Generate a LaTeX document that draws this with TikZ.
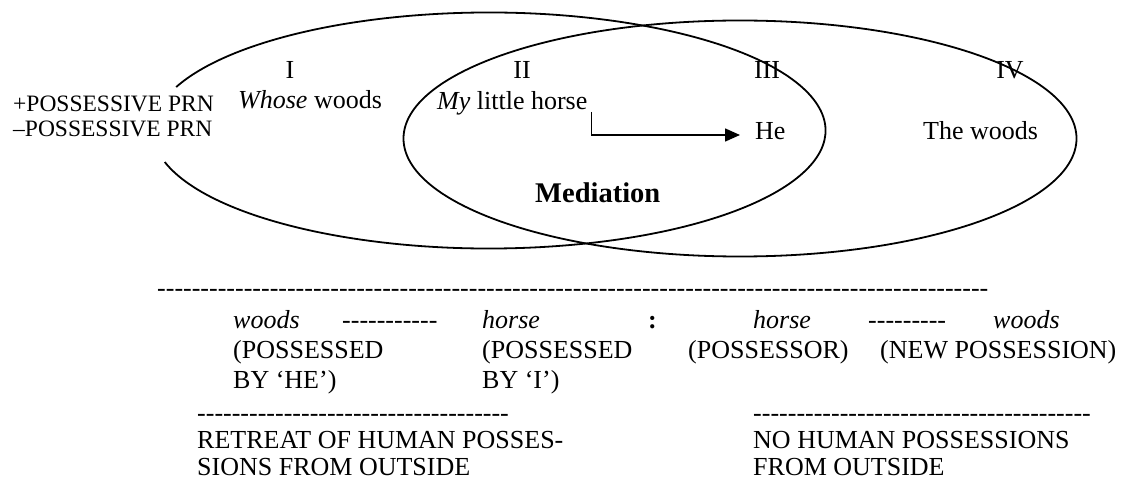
\documentclass[tikz,border=0pt]{standalone}
\usepackage{fontspec}
\setmainfont{Liberation Serif}
\usetikzlibrary{arrows.meta}
\newcommand\hyrow[1]{\foreach \i in {1,...,#1}{-\kern0pt}}
\tikzset{
  txt/.style={inner sep=0pt, anchor=base west, font=\fontsize{26}{30}\selectfont},
  num/.style={inner sep=0pt, anchor=base, font=\fontsize{26}{30}\selectfont},
  lbl/.style={inner sep=0pt, anchor=base west, font=\fontsize{23.5}{28}\selectfont},
  bold/.style={inner sep=0pt, anchor=base west, font=\fontsize{28.5}{32}\selectfont\bfseries},
  ring/.style={line width=1.8pt},
  link/.style={line width=1.6pt, -{Triangle[length=15pt,width=13pt]}}
}
\begin{document}
\begin{tikzpicture}[x=1pt,y=-1pt]
\useasboundingbox (0,0) rectangle (1126,481);
% ellipses
\coordinate (cA) at (489,130.5);
\coordinate (cB) at (740,138.5);
\draw[ring] (cA) ++(195.5:336.5pt and 118pt) arc[start angle=195.5, end angle=518.4, x radius=336.5pt, y radius=118pt];
\draw[ring] (cB) ellipse[x radius=336.5pt, y radius=118pt];
% region numbers
\node[num] (n1) at (290,79) {I};
\node[num] (n2) at (522,79) {II};
\node[num] (n3) at (767,79) {III};
\node[num] (n4) at (1010,79) {IV};
% left labels
\node[lbl] (plus) at (13,112) {+POSSESSIVE PRN};
\node[lbl] (minus) at (13,137) {–POSSESSIVE PRN};
% region texts
\node[txt] (whose) at (238,109) {\textit{Whose} woods};
\node[txt] (mlh) at (437,110) {\textit{My} little horse};
\node[txt] (he) at (755,140) {He};
\node[txt] (thewoods) at (923,140) {The woods};
\node[bold] (med) at (535,203) {Mediation};
\draw[link] ([xshift=4pt,yshift=-2pt]mlh.base east) |- ([xshift=-15pt,yshift=5pt]he.base west);
% bottom part
\node[txt] (long) at (157,296) {\hyrow{96}};
\node[txt] (w1) at (233,328) {\textit{woods}};
\node[txt] (d1) at (342,328) {\hyrow{11}};
\node[txt] (h1) at (482,328) {\textit{horse}};
\node[txt] (colon) at (648,328) {\textbf{:}};
\node[txt] (h2) at (753,328) {\textit{horse}};
\node[txt] (d2) at (868,328) {\hyrow{9}};
\node[txt] (w2) at (993,328) {\textit{woods}};
\node[txt] (p1) at (233,358) {(POSSESSED};
\node[txt] (p2) at (482,358) {(POSSESSED};
\node[txt] (p3) at (688,358) {(POSSESSOR)};
\node[txt] (p4) at (880,358) {(NEW POSSESSION)};
\node[txt] (b1) at (233,388) {BY ‘HE’)};
\node[txt] (b2) at (482,388) {BY ‘I’)};
\node[txt] (dl) at (197,421) {\hyrow{36}};
\node[txt] (dr) at (753,421) {\hyrow{39}};
\node[txt] (r1) at (197,448) {RETREAT OF HUMAN POSSES-};
\node[txt] (r2) at (197,475) {SIONS FROM OUTSIDE};
\node[txt] (s1) at (753,448) {NO HUMAN POSSESSIONS};
\node[txt] (s2) at (753,475) {FROM OUTSIDE};
\end{tikzpicture}
\end{document}
